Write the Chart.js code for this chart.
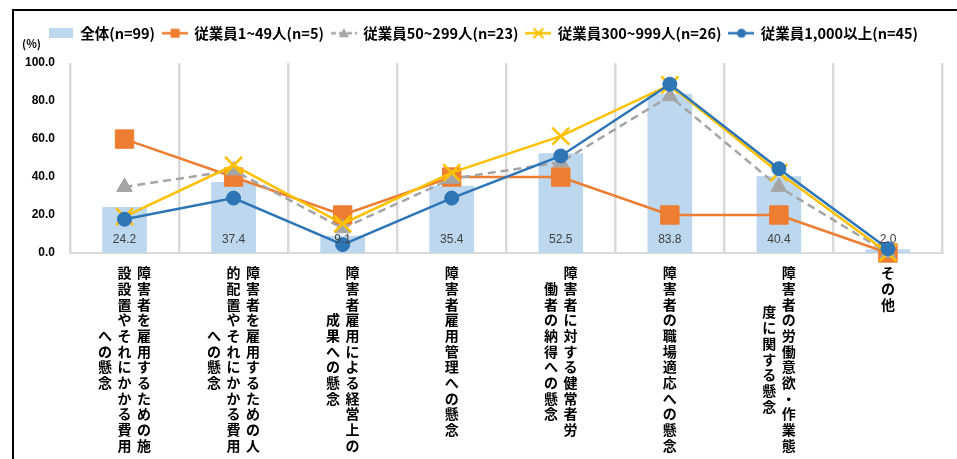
<!DOCTYPE html>
<html>
<head>
<meta charset="utf-8">
<script src="https://cdn.jsdelivr.net/npm/chart.js@4.4.1/dist/chart.umd.min.js"></script>
<style>
  html, body { margin: 0; padding: 0; background: #fff; }
  #wrap { position: relative; width: 957px; height: 459px; overflow: hidden; }
  #wrap canvas { position: absolute; left: 0; top: 0; }
  #frame { position: absolute; left: 12px; top: 9px; width: 980px; height: 480px;
           border-top: 2px solid #000; border-left: 2px solid #000; pointer-events: none; }
</style>
</head>
<body>
<div id="wrap">
  <canvas id="chart" width="957" height="459"></canvas>
  <div id="frame"></div>
</div>
<script>
// Category labels, one entry per vertical column of text (read right to left)
const categoryLines = [
  ['障害者を雇用するための施', '設設置やそれにかかる費用', 'への懸念'],
  ['障害者を雇用するための人', '的配置やそれにかかる費用', 'への懸念'],
  ['障害者雇用による経営上の', '成果への懸念'],
  ['障害者雇用管理への懸念'],
  ['障害者に対する健常者労', '働者の納得への懸念'],
  ['障害者の職場適応への懸念'],
  ['障害者の労働意欲・作業態', '度に関する懸念'],
  ['その他']
];
const categories = categoryLines.map(l => l.join(''));

const seriesNames = [
  '全体(n=99)',
  '従業員1~49人(n=5)',
  '従業員50~299人(n=23)',
  '従業員300~999人(n=26)',
  '従業員1,000以上(n=45)'
];

// Percentages (%)
const totalAll    = [24.2, 37.4, 9.1, 35.4, 52.5, 83.8, 40.4, 2.0];
const emp1to49    = [60.0, 40.0, 20.0, 40.0, 40.0, 20.0, 20.0, 0.0];
const emp50to299  = [34.8, 43.5, 13.0, 39.1, 47.8, 82.6, 34.8, 0.0];
const emp300to999 = [19.2, 46.2, 15.4, 42.3, 61.5, 88.5, 42.3, 0.0];
const emp1000plus = [17.8, 28.9, 4.4, 28.9, 51.1, 88.9, 44.4, 2.2];

const yTicks = [0, 20, 40, 60, 80, 100];

const JP = '"Noto Sans CJK JP", "Noto Sans", sans-serif';
const C_BAR = '#BDD7EE', C_OR = '#ED7D31', C_GR = '#A5A5A5', C_YE = '#FFC000', C_BL = '#2E75B6';

// Legend swatches: line with its marker
function lineSwatch(color, marker, dash) {
  const c = document.createElement('canvas');
  c.width = 26; c.height = 14;
  const g = c.getContext('2d');
  g.strokeStyle = color; g.fillStyle = color; g.lineWidth = 2.5;
  if (dash) g.setLineDash(dash);
  g.beginPath(); g.moveTo(0, 7); g.lineTo(26, 7); g.stroke();
  g.setLineDash([]);
  const cx = 13, cy = 7;
  if (marker === 'rect') {
    g.fillRect(cx - 4.5, cy - 4.5, 9, 9);
  } else if (marker === 'triangle') {
    g.beginPath(); g.moveTo(cx, cy - 5); g.lineTo(cx + 5, cy + 4); g.lineTo(cx - 5, cy + 4); g.closePath(); g.fill();
  } else if (marker === 'crossRot') {
    g.lineWidth = 2;
    g.beginPath(); g.moveTo(cx - 5, cy - 5); g.lineTo(cx + 5, cy + 5);
    g.moveTo(cx + 5, cy - 5); g.lineTo(cx - 5, cy + 5); g.stroke();
  } else if (marker === 'circle') {
    g.beginPath(); g.arc(cx, cy, 4.5, 0, Math.PI * 2); g.fill();
  }
  return c;
}
function boxSwatch(color) {
  const c = document.createElement('canvas');
  c.width = 24; c.height = 10;
  const g = c.getContext('2d');
  g.fillStyle = color; g.fillRect(0, 0, 24, 10);
  return c;
}
const swatches = [
  boxSwatch(C_BAR),
  lineSwatch(C_OR, 'rect'),
  lineSwatch(C_GR, 'triangle', [5, 3]),
  lineSwatch(C_YE, 'crossRot'),
  lineSwatch(C_BL, 'circle')
];

// Vertical (stacked) category labels under the axis
const verticalLabels = {
  id: 'verticalLabels',
  afterDraw(chart) {
    const xs = chart.scales.x;
    const ctx = chart.ctx;
    const top = chart.chartArea.bottom + 12;
    const pitch = 15.7, colGap = 19.5;
    ctx.save();
    ctx.fillStyle = '#000';
    ctx.font = 'bold 14px ' + JP;
    ctx.textAlign = 'center';
    ctx.textBaseline = 'middle';
    categoryLines.forEach((cols, i) => {
      const cx = xs.getPixelForValue(i);
      const n = cols.length;
      const maxLen = Math.max(...cols.map(s => [...s].length));
      cols.forEach((line, j) => {
        const chars = [...line];
        const x = cx + ((n - 1) / 2 - j) * colGap;
        const y0 = top + (maxLen - chars.length) * pitch / 2;
        chars.forEach((ch, k) => ctx.fillText(ch, x, y0 + pitch * (k + 0.5)));
      });
    });
    ctx.restore();
  }
};

// Value labels at the foot of each bar
const barValues = {
  id: 'barValues',
  afterDatasetsDraw(chart) {
    const ctx = chart.ctx;
    const meta = chart.getDatasetMeta(0);
    const base = chart.scales.y.getPixelForValue(0);
    ctx.save();
    ctx.fillStyle = '#404040';
    ctx.font = '12px "Liberation Sans", "Noto Sans", sans-serif';
    ctx.textAlign = 'center';
    ctx.textBaseline = 'middle';
    meta.data.forEach((el, i) => {
      ctx.fillText(totalAll[i].toFixed(1), el.x, base - 13);
    });
    ctx.restore();
  }
};

function lineSet(label, data, color, style, radius, order, extra) {
  return Object.assign({
    type: 'line', label, data, order,
    borderColor: color, backgroundColor: color,
    borderWidth: 2.5, tension: 0, fill: false,
    pointStyle: style, pointRadius: radius, pointHoverRadius: radius,
    pointBorderWidth: 1, pointBorderColor: color, pointBackgroundColor: color,
    clip: false
  }, extra || {});
}

new Chart(document.getElementById('chart'), {
  type: 'bar',
  data: {
    labels: categories,
    datasets: [
      { type: 'bar', label: seriesNames[0], data: totalAll, order: 5,
        backgroundColor: C_BAR, borderWidth: 0, barPercentage: 0.41, categoryPercentage: 1.0 },
      lineSet(seriesNames[1], emp1to49, C_OR, 'rect', 13, 4),
      lineSet(seriesNames[2], emp50to299, C_GR, 'triangle', 9, 3, { borderDash: [8, 5] }),
      lineSet(seriesNames[3], emp300to999, C_YE, 'crossRot', 12, 2, { pointBorderWidth: 2.5 }),
      lineSet(seriesNames[4], emp1000plus, C_BL, 'circle', 7, 1)
    ]
  },
  options: {
    responsive: false,
    animation: false,
    layout: { padding: { left: 22, right: 12, top: 18, bottom: 0 } },
    plugins: {
      tooltip: { enabled: false },
      legend: {
        position: 'top',
        align: 'center',
        labels: {
          usePointStyle: true,
          pointStyleWidth: 24,
          boxHeight: 14,
          padding: 8,
          color: '#000',
          font: { family: JP, size: 14.5, weight: 'bold' },
          generateLabels(chart) {
            return chart.data.datasets.map((ds, i) => ({
              text: ds.label, datasetIndex: i, hidden: false,
              pointStyle: swatches[i], fontColor: '#000',
              fillStyle: 'transparent', strokeStyle: 'transparent', lineWidth: 0
            }));
          }
        }
      },
      // unit label, sitting between the legend and the plot (tucked up beside the legend row)
      title: {
        display: true,
        text: '(%)',
        position: 'top',
        align: 'start',
        weight: 500,
        color: '#000',
        font: { family: JP, size: 11, weight: 'bold', lineHeight: 1.2 },
        padding: { top: -13, bottom: 12.4 }
      }
    },
    scales: {
      x: {
        type: 'category',
        offset: true,
        grid: { display: true, offset: true, color: '#D9D9D9', lineWidth: 2.5, drawTicks: false },
        border: { display: true, color: '#D9D9D9', width: 2 },
        ticks: { display: false },
        afterFit(s) { s.height = 206; }
      },
      y: {
        min: 0, max: 100,
        afterBuildTicks(s) { s.ticks = yTicks.map(v => ({ value: v })); },
        grid: { display: false, drawTicks: false },
        border: { display: false },
        ticks: {
          padding: 15,
          color: '#000',
          font: { family: '"Liberation Sans", sans-serif', size: 12, weight: 'bold' },
          callback: v => Number(v).toFixed(1)
        },
        afterFit(s) { s.width = 48; }
      }
    }
  },
  plugins: [verticalLabels, barValues]
});
</script>
</body>
</html>
